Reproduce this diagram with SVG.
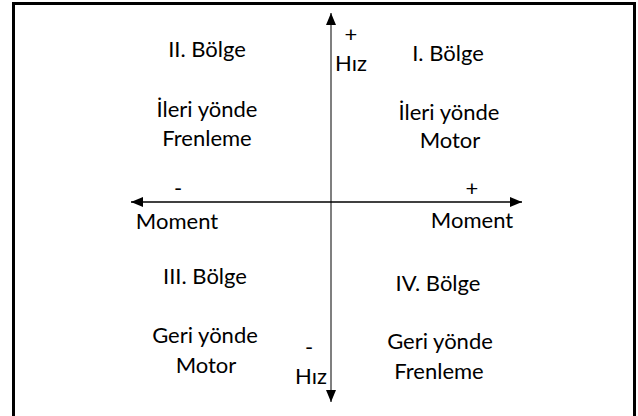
<svg xmlns="http://www.w3.org/2000/svg" width="638" height="416" viewBox="0 0 638 416">
  <style>
    text { font-family: Lato, "Noto Sans", "Liberation Sans", sans-serif; font-size: 22px; fill: #000; text-anchor: middle; }
  </style>
  <defs>
    <marker id="ah" viewBox="0 0 12 10" refX="12" refY="5" markerWidth="12" markerHeight="10" markerUnits="userSpaceOnUse" orient="auto">
      <path d="M0,0 L12,5 L0,10 Z" fill="#000"/>
    </marker>
  </defs>
  <rect x="0" y="0" width="638" height="416" fill="#fff"/>
  <rect x="13.5" y="3.5" width="621" height="420" fill="none" stroke="#000" stroke-width="3"/>
  <g id="connectors">
    <line x1="331" y1="202" x2="331" y2="13" stroke="#555" stroke-width="1.5" marker-end="url(#ah)"/>
    <line x1="331" y1="202" x2="331" y2="402" stroke="#555" stroke-width="1.5" marker-end="url(#ah)"/>
    <line x1="331" y1="202" x2="131" y2="202" stroke="#000" stroke-width="1.3" marker-end="url(#ah)"/>
    <line x1="331" y1="202" x2="522" y2="202" stroke="#000" stroke-width="1.3" marker-end="url(#ah)"/>
  </g>
  <g id="axis-labels">
    <text x="351" y="42">+</text>
    <text x="351" y="71">Hız</text>
    <text x="178" y="196">-</text>
    <text x="177" y="229">Moment</text>
    <text x="472" y="196">+</text>
    <text x="472" y="228">Moment</text>
    <text x="309" y="355">-</text>
    <text x="311" y="384">Hız</text>
  </g>
  <g id="q2">
    <text x="207" y="57">II. Bölge</text>
    <text x="207" y="117">İleri yönde</text>
    <text x="207" y="146">Frenleme</text>
  </g>
  <g id="q1">
    <text x="448" y="61">I. Bölge</text>
    <text x="449" y="120">İleri yönde</text>
    <text x="450" y="148">Motor</text>
  </g>
  <g id="q3">
    <text x="205" y="284">III. Bölge</text>
    <text x="205" y="343">Geri yönde</text>
    <text x="206" y="373">Motor</text>
  </g>
  <g id="q4">
    <text x="438" y="291">IV. Bölge</text>
    <text x="440" y="349">Geri yönde</text>
    <text x="439" y="379">Frenleme</text>
  </g>
</svg>
